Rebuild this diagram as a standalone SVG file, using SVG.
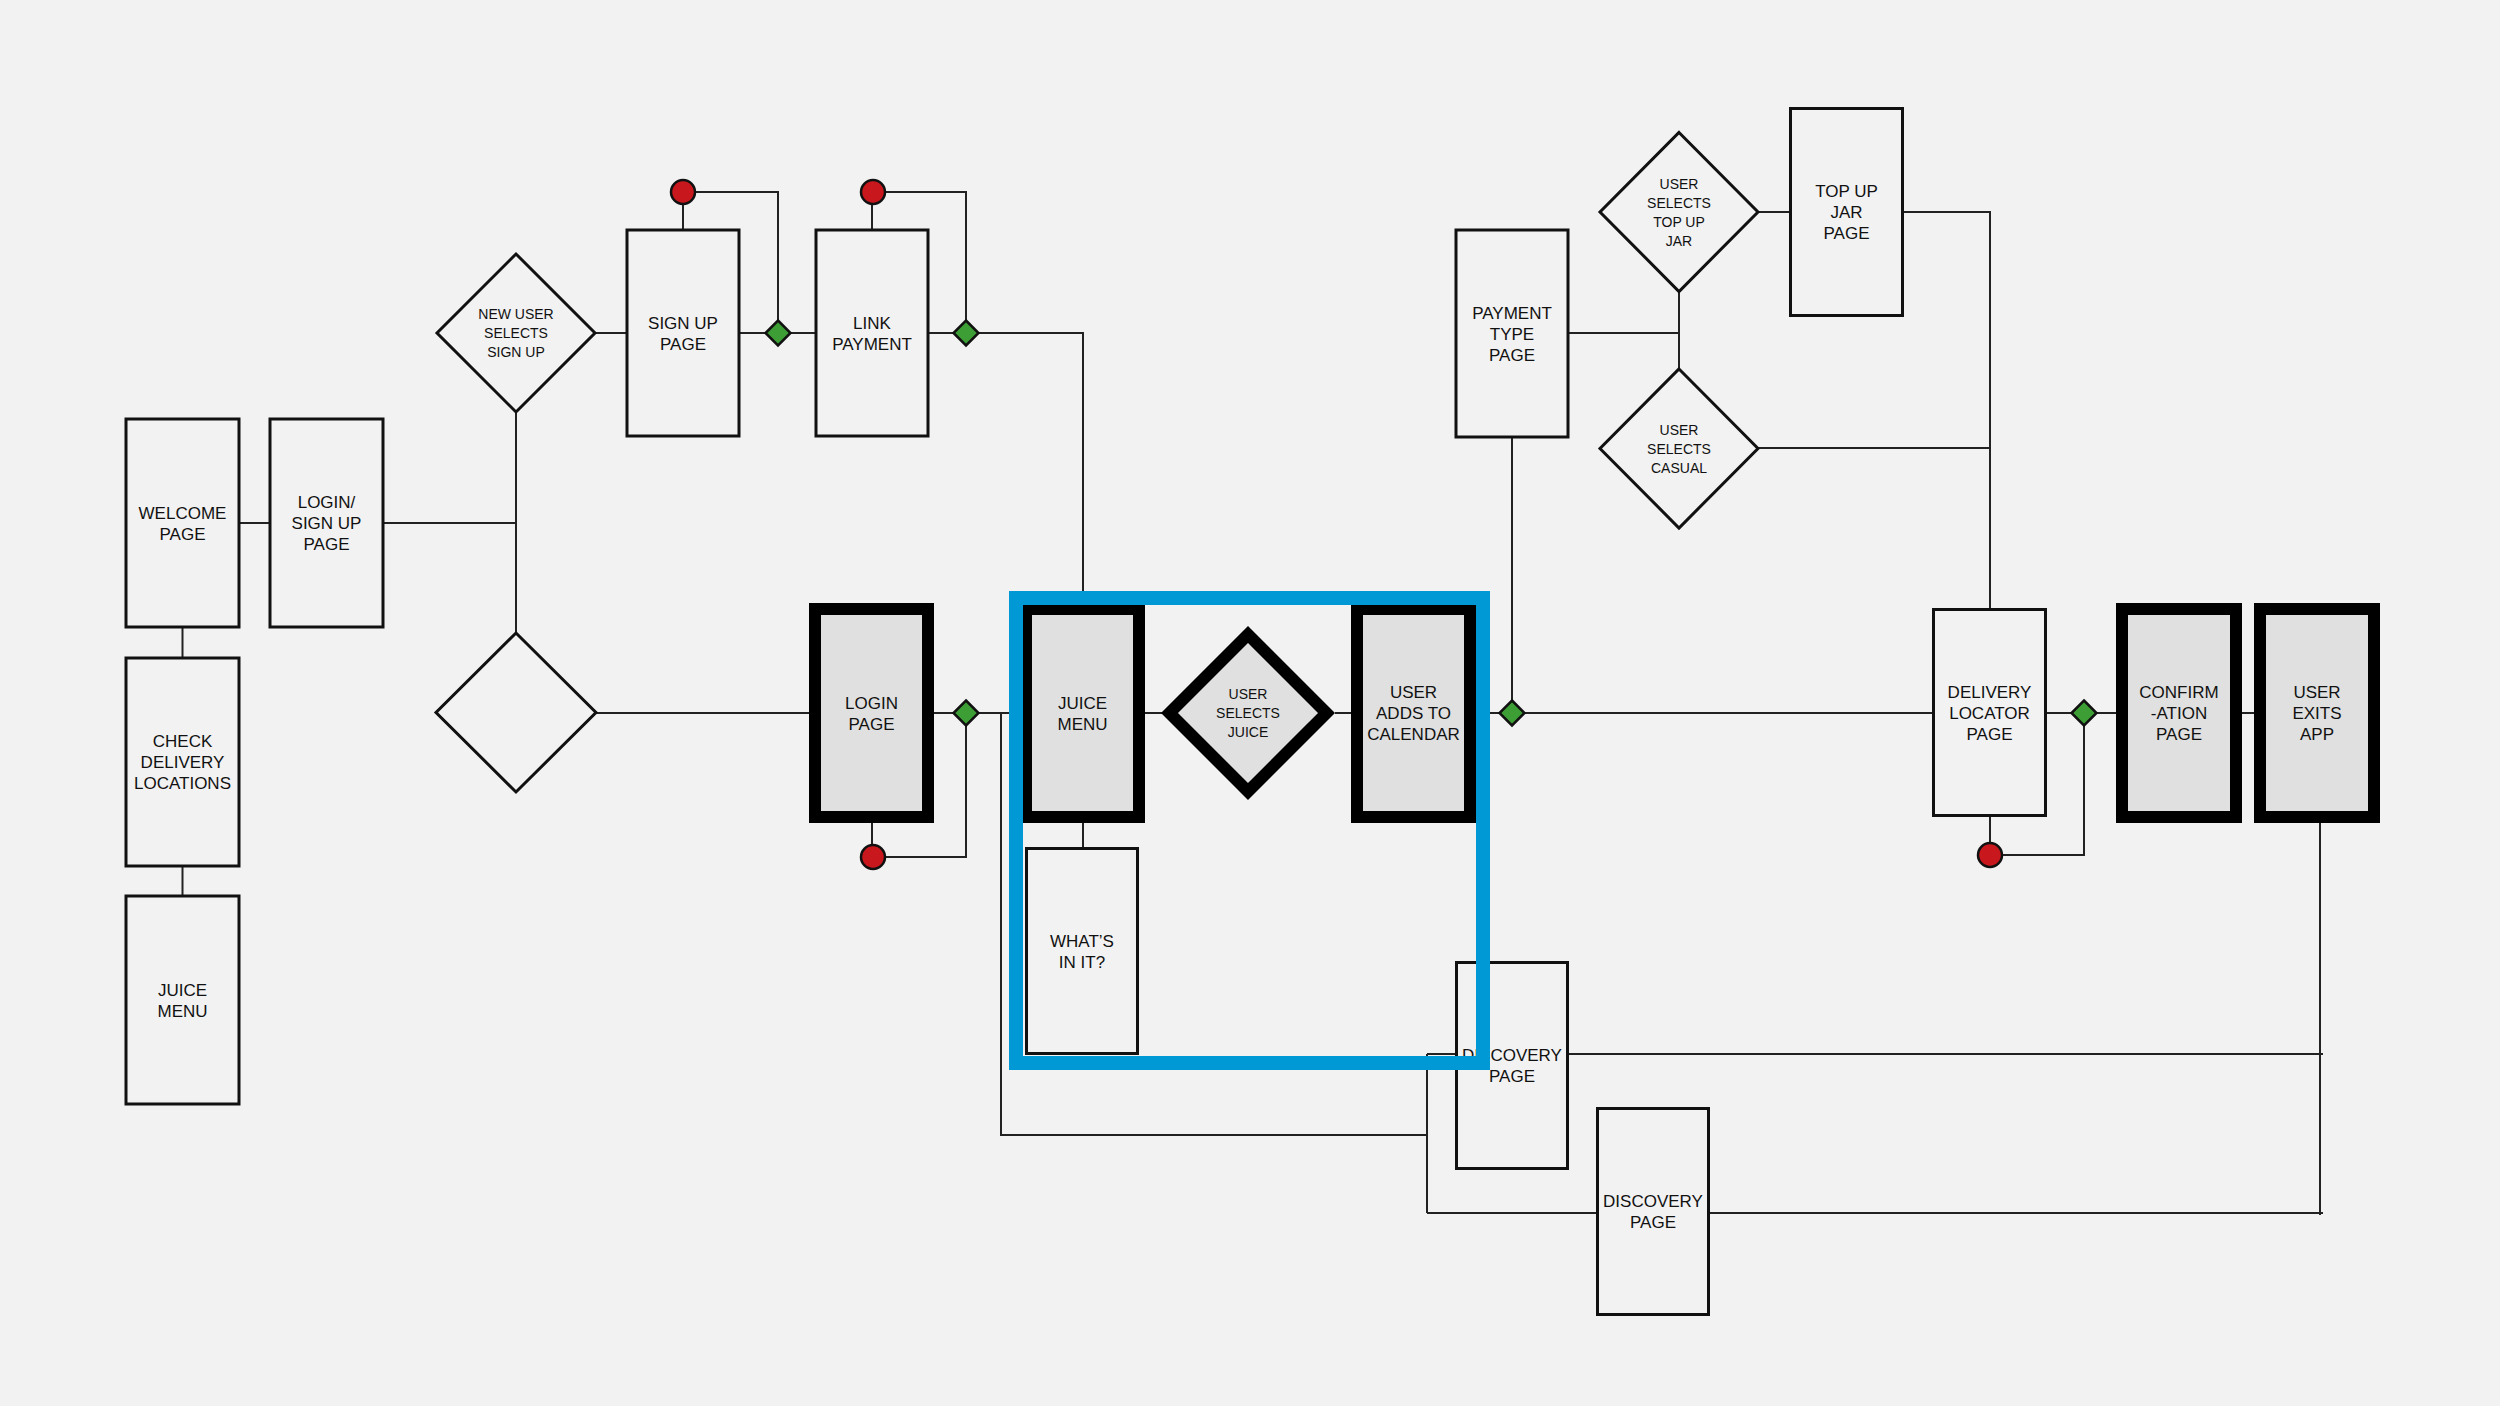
<svg xmlns="http://www.w3.org/2000/svg" width="2500" height="1406" viewBox="0 0 2500 1406">
<style>
.bg{fill:#f2f2f2}
.box{fill:#f2f2f2;stroke:#111;stroke-width:3}
.tbox{fill:#e0e0e0;stroke:#000;stroke-width:12}
.dia{fill:#f2f2f2;stroke:#111;stroke-width:3;stroke-linejoin:miter}
.tdia{fill:#e0e0e0;stroke:#000;stroke-width:12;stroke-linejoin:miter}
.red{fill:#c8181e;stroke:#111;stroke-width:2.5}
.grn{fill:#3c9e35;stroke:#111;stroke-width:2.5}
.c{fill:none;stroke:#222;stroke-width:2}
.t{font-family:'Liberation Sans',Arial,sans-serif;font-size:17px;fill:#111;text-anchor:middle}
.s{font-size:14px}
.hl{fill:none;stroke:#0099d6;stroke-width:14}
</style>
<rect class="bg" x="0" y="0" width="2500" height="1406"/>
<g id="connectors">
<path class="c" d="M182.5 627V658M182.5 866V896"/>
<path class="c" d="M239 523H270"/>
<path class="c" d="M383 523H516"/>
<path class="c" d="M516 412V633"/>
<path class="c" d="M595 333H627"/>
<path class="c" d="M739 333H766M790 333H816"/>
<path class="c" d="M683 230V204M695 192H778V321"/>
<path class="c" d="M872 230V204M885 192H966V321"/>
<path class="c" d="M928 333H954M978 333H1083V603"/>
<path class="c" d="M596 713H809"/>
<path class="c" d="M934 713H954M978 713H1020"/>
<path class="c" d="M872 823V845M885 857H966V725"/>
<path class="c" d="M1001 713V1135H1427"/>
<path class="c" d="M1427 1054V1213M1427 1054H1456M1427 1213H1597"/>
<path class="c" d="M1568 1054H2323M1709 1213H2323"/>
<path class="c" d="M2320 823V1215"/>
<path class="c" d="M1145 713H1162M1335 713H1351"/>
<path class="c" d="M1476 713H1500M1524 713H1933"/>
<path class="c" d="M1512 438V701"/>
<path class="c" d="M1568 333H1679M1679 291V369"/>
<path class="c" d="M1758 212H1790M1903 212H1990V609"/>
<path class="c" d="M1758 448H1990"/>
<path class="c" d="M2046 713H2072M2096 713H2116"/>
<path class="c" d="M1990 817V843M2002 855H2084V725"/>
<path class="c" d="M2242 713H2254"/>
<path class="c" d="M1083 823V848"/>
</g>
<g id="welcome"><rect class="box" x="126" y="419" width="113" height="208"/>
<text class="t"><tspan x="182.5" y="518.5">WELCOME</tspan><tspan x="182.5" y="539.5">PAGE</tspan></text></g>
<g id="login-signup"><rect class="box" x="270" y="419" width="113" height="208"/>
<text class="t"><tspan x="326.5" y="508">LOGIN/</tspan><tspan x="326.5" y="529">SIGN UP</tspan><tspan x="326.5" y="550">PAGE</tspan></text></g>
<g id="check-delivery"><rect class="box" x="126" y="658" width="113" height="208"/>
<text class="t"><tspan x="182.5" y="747">CHECK</tspan><tspan x="182.5" y="768">DELIVERY</tspan><tspan x="182.5" y="789">LOCATIONS</tspan></text></g>
<g id="juice-menu-left"><rect class="box" x="126" y="896" width="113" height="208"/>
<text class="t"><tspan x="182.5" y="995.5">JUICE</tspan><tspan x="182.5" y="1016.5">MENU</tspan></text></g>
<g id="new-user-diamond"><polygon class="dia" points="516,254 595,333 516,412 437,333"/>
<text class="t s"><tspan x="516" y="319">NEW USER</tspan><tspan x="516" y="338">SELECTS</tspan><tspan x="516" y="357">SIGN UP</tspan></text></g>
<g id="empty-diamond"><polygon class="dia" points="516,633 596,712.5 516,792 436,712.5"/></g>
<g id="signup-page"><rect class="box" x="627" y="230" width="112" height="206"/>
<text class="t"><tspan x="683" y="328.5">SIGN UP</tspan><tspan x="683" y="349.5">PAGE</tspan></text></g>
<g id="link-payment"><rect class="box" x="816" y="230" width="112" height="206"/>
<text class="t"><tspan x="872" y="328.5">LINK</tspan><tspan x="872" y="349.5">PAYMENT</tspan></text></g>
<g id="login-page"><rect class="tbox" x="815" y="609" width="113" height="208"/>
<text class="t"><tspan x="871.5" y="708.5">LOGIN</tspan><tspan x="871.5" y="729.5">PAGE</tspan></text></g>
<g id="juice-menu"><rect class="tbox" x="1026" y="609" width="113" height="208"/>
<text class="t"><tspan x="1082.5" y="708.5">JUICE</tspan><tspan x="1082.5" y="729.5">MENU</tspan></text></g>
<g id="selects-juice"><polygon class="tdia" points="1248,634.5 1326.5,713 1248,791.5 1169.5,713"/>
<text class="t s"><tspan x="1248" y="699">USER</tspan><tspan x="1248" y="718">SELECTS</tspan><tspan x="1248" y="737">JUICE</tspan></text></g>
<g id="adds-calendar"><rect class="tbox" x="1357" y="609" width="113" height="208"/>
<text class="t"><tspan x="1413.5" y="698">USER</tspan><tspan x="1413.5" y="719">ADDS TO</tspan><tspan x="1413.5" y="740">CALENDAR</tspan></text></g>
<g id="whats-in-it"><rect class="box" x="1026.5" y="848.5" width="111" height="205"/>
<text class="t"><tspan x="1082" y="946.5">WHAT’S</tspan><tspan x="1082" y="967.5">IN IT?</tspan></text></g>
<g id="payment-type"><rect class="box" x="1456" y="230" width="112" height="207"/>
<text class="t"><tspan x="1512" y="318.5">PAYMENT</tspan><tspan x="1512" y="339.5">TYPE</tspan><tspan x="1512" y="360.5">PAGE</tspan></text></g>
<g id="topup-diamond"><polygon class="dia" points="1679,132.5 1758,212 1679,291.5 1600,212"/>
<text class="t s"><tspan x="1679" y="188.5">USER</tspan><tspan x="1679" y="207.5">SELECTS</tspan><tspan x="1679" y="226.5">TOP UP</tspan><tspan x="1679" y="245.5">JAR</tspan></text></g>
<g id="topup-page"><rect class="box" x="1790.5" y="108.5" width="112" height="207"/>
<text class="t"><tspan x="1846.5" y="197">TOP UP</tspan><tspan x="1846.5" y="218">JAR</tspan><tspan x="1846.5" y="239">PAGE</tspan></text></g>
<g id="casual-diamond"><polygon class="dia" points="1679,369 1758,448.5 1679,528 1600,448.5"/>
<text class="t s"><tspan x="1679" y="434.5">USER</tspan><tspan x="1679" y="453.5">SELECTS</tspan><tspan x="1679" y="472.5">CASUAL</tspan></text></g>
<g id="delivery-locator"><rect class="box" x="1933.5" y="609.5" width="112" height="206"/>
<text class="t"><tspan x="1989.5" y="698">DELIVERY</tspan><tspan x="1989.5" y="719">LOCATOR</tspan><tspan x="1989.5" y="740">PAGE</tspan></text></g>
<g id="confirmation"><rect class="tbox" x="2122" y="609" width="114" height="208"/>
<text class="t"><tspan x="2179" y="698">CONFIRM</tspan><tspan x="2179" y="719">-ATION</tspan><tspan x="2179" y="740">PAGE</tspan></text></g>
<g id="user-exits"><rect class="tbox" x="2260" y="609" width="114" height="208"/>
<text class="t"><tspan x="2317" y="698">USER</tspan><tspan x="2317" y="719">EXITS</tspan><tspan x="2317" y="740">APP</tspan></text></g>
<g id="discovery-1"><rect class="box" x="1456.5" y="962.5" width="111" height="206"/>
<text class="t"><tspan x="1512" y="1061">DISCOVERY</tspan><tspan x="1512" y="1082">PAGE</tspan></text></g>
<g id="discovery-2"><rect class="box" x="1597.5" y="1108.5" width="111" height="206"/>
<text class="t"><tspan x="1653" y="1207">DISCOVERY</tspan><tspan x="1653" y="1228">PAGE</tspan></text></g>
<g id="markers">
<circle class="red" cx="683" cy="192" r="12"/>
<circle class="red" cx="873" cy="192" r="12"/>
<circle class="red" cx="873" cy="857" r="12"/>
<circle class="red" cx="1990" cy="855" r="12"/>
<polygon class="grn" points="778,320.5 790.5,333 778,345.5 765.5,333"/>
<polygon class="grn" points="966,320.5 978.5,333 966,345.5 953.5,333"/>
<polygon class="grn" points="966,700.5 978.5,713 966,725.5 953.5,713"/>
<polygon class="grn" points="1512,700.5 1524.5,713 1512,725.5 1499.5,713"/>
<polygon class="grn" points="2084,700.5 2096.5,713 2084,725.5 2071.5,713"/>
</g>
<g id="highlight"><rect class="hl" x="1016" y="598" width="467" height="465"/></g>
</svg>
